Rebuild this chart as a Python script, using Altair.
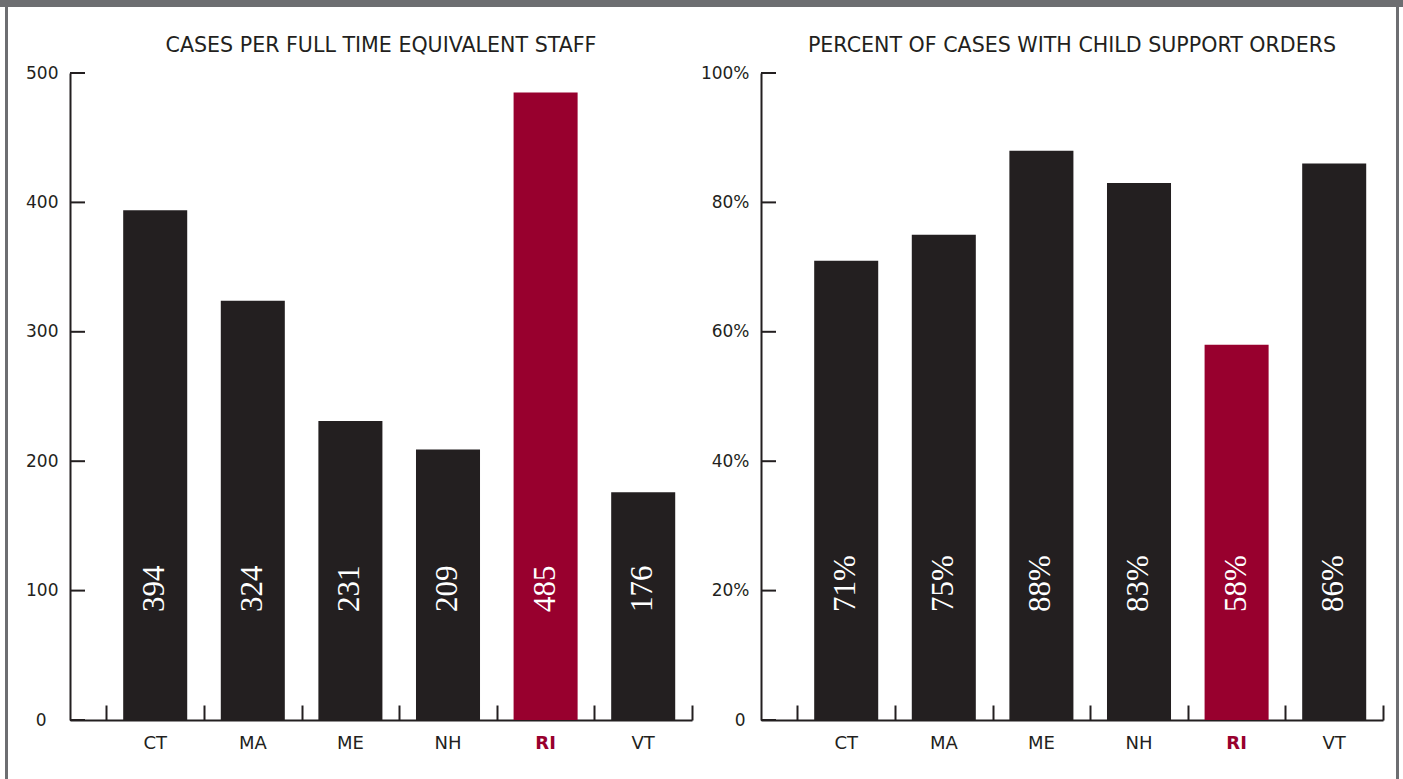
import altair as alt
import pandas as pd

# ---- data -------------------------------------------------------------
STATES = ["CT", "MA", "ME", "NH", "RI", "VT"]
CASES_PER_FTE = [394, 324, 231, 209, 485, 176]
PCT_WITH_ORDERS = [71, 75, 88, 83, 58, 86]
BAR_COLORS = ["#231f20", "#231f20", "#231f20", "#231f20", "#98002e", "#231f20"]
LEFT_TICKS = [0, 100, 200, 300, 400, 500]
RIGHT_TICKS = [0, 20, 40, 60, 80, 100]
TITLES = [
    "CASES PER FULL TIME EQUIVALENT STAFF",
    "PERCENT OF CASES WITH CHILD SUPPORT ORDERS",
]

# ---- style ------------------------------------------------------------
INK = "#231f20"
HIGHLIGHT = "#98002e"
FRAME = "#6d6e71"
SANS = "DejaVu Sans"
SERIF = "Liberation Serif"

W, H = 622, 647                      # plot area of each panel
PAD_OUTER, ALIGN = 0.1865, 1.0       # contiguous bands, all slack on the left
BAR_FRACTION = 0.656                 # bar width as a share of each band

IS_RI = "datum.value === 'RI'"
IS_ZERO = "datum.value == 0"


def panel(values, ticks, y_max, suffix, title, frame_side, zero_pad):
    df = pd.DataFrame({"state": STATES, "value": values})
    df["label"] = [f"{v}{suffix}" for v in values]
    tick_df = pd.DataFrame({"t": ticks})
    one = pd.DataFrame({"k": [0]})

    x_scale = alt.Scale(domain=STATES, paddingInner=0,
                        paddingOuter=PAD_OUTER, align=ALIGN)
    y_scale = alt.Scale(domain=[0, y_max], nice=False, zero=True)

    if suffix:
        label_expr = "datum.value == 0 ? '0' : datum.value + '%'"
    else:
        label_expr = "datum.label"

    bars = alt.Chart(df).mark_bar(width=alt.RelativeBandSize(BAR_FRACTION)).encode(
        x=alt.X("state:N", sort=STATES, scale=x_scale, axis=alt.Axis(
            orient="bottom", title=None, ticks=False, tickSize=0,
            domain=True, domainColor=INK, domainWidth=2, grid=False,
            labelFont=SANS, labelFontSize=18, labelAngle=0, labelPadding=14,
            labelColor={"condition": {"test": IS_RI, "value": HIGHLIGHT}, "value": INK},
            labelFontWeight={"condition": {"test": IS_RI, "value": "bold"}, "value": "normal"},
        )),
        y=alt.Y("value:Q", scale=y_scale, axis=alt.Axis(
            orient="left", title=None, values=ticks, ticks=False, tickSize=0,
            domain=True, domainColor=INK, domainWidth=2, grid=False,
            labelFont=SANS, labelFontSize=17, labelColor=INK,
            labelPadding={"condition": {"test": IS_ZERO, "value": zero_pad}, "value": 12},
            labelExpr=label_expr,
        )),
        color=alt.Color("state:N", scale=alt.Scale(domain=STATES, range=BAR_COLORS), legend=None),
    )

    # value labels inside the bars; their axis carries the inward x ticks
    labels = alt.Chart(df).mark_text(
        angle=270, align="left", baseline="middle",
        font=SERIF, fontSize=31, color="white",
    ).encode(
        x=alt.X("state:N", sort=STATES, scale=x_scale, axis=alt.Axis(
            orient="top", offset=-H, title=None, labels=False, domain=False,
            ticks=True, tickBand="extent", tickSize=15, tickWidth=2,
            tickColor=INK, grid=False,
        )),
        y=alt.value(H - 108),
        text="label:N",
    )

    # inward y ticks
    y_ticks = alt.Chart(tick_df).mark_rule(color=INK, strokeWidth=2).encode(
        y=alt.Y("t:Q", scale=y_scale, axis=None),
        x=alt.value(0),
        x2=alt.value(15),
    )

    heading = alt.Chart(one).mark_text(
        text=title, font=SANS, fontSize=20.6, color=INK,
        align="center", baseline="middle",
    ).encode(x=alt.value(W / 2), y=alt.value(-27))

    # page frame: grey band along the top and a thin side rule
    if frame_side == "left":
        band = alt.Chart(one).mark_rect(color=FRAME).encode(
            x=alt.value(-70), x2=alt.value(630), y=alt.value(-73), y2=alt.value(-66))
        side = alt.Chart(one).mark_rect(color=FRAME).encode(
            x=alt.value(-65), x2=alt.value(-62), y=alt.value(-66), y2=alt.value(706))
    else:
        band = alt.Chart(one).mark_rect(color=FRAME).encode(
            x=alt.value(-61), x2=alt.value(642), y=alt.value(-73), y2=alt.value(-66))
        side = alt.Chart(one).mark_rect(color=FRAME).encode(
            x=alt.value(635), x2=alt.value(638), y=alt.value(-66), y2=alt.value(706))

    return alt.layer(band, side, bars, labels, y_ticks, heading).resolve_axis(
        x="independent", y="independent"
    ).properties(width=W, height=H)


left = panel(CASES_PER_FTE, LEFT_TICKS, 500, "", TITLES[0], "left", 24)
right = panel(PCT_WITH_ORDERS, RIGHT_TICKS, 100, "%", TITLES[1], "right", 16)

chart = alt.hconcat(left, right, spacing=0).properties(
    padding=0, background="white"
).configure_view(strokeWidth=0)

chart.save("out.html", embed_options={"renderer": "svg", "actions": False})
